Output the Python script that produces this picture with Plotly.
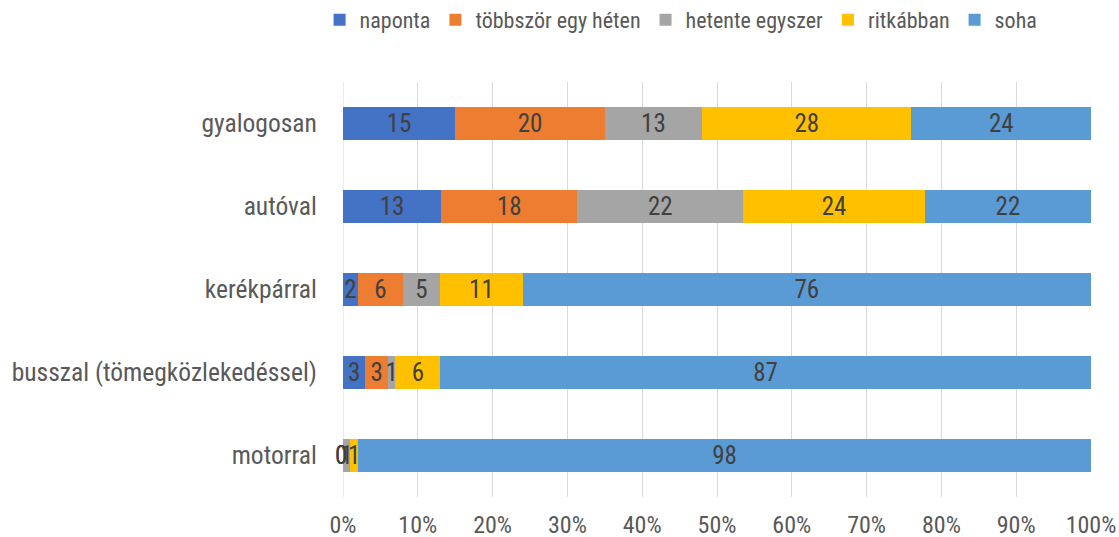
import plotly.graph_objects as go

categories = ["gyalogosan", "autóval", "kerékpárral", "busszal (tömegközlekedéssel)", "motorral"]
series_names = ["naponta", "többször egy héten", "hetente egyszer", "ritkábban", "soha"]
naponta = [15, 13, 2, 3, 0]
tobbszor = [20, 18, 6, 3, 0]
hetente = [13, 22, 5, 1, 1]
ritkabban = [28, 24, 11, 6, 1]
soha = [24, 22, 76, 87, 98]
colors = ["#4472C4", "#ED7D31", "#A5A5A5", "#FFC000", "#5B9BD5"]
tick_vals = [0, 10, 20, 30, 40, 50, 60, 70, 80, 90, 100]
tick_text = ["0%", "10%", "20%", "30%", "40%", "50%", "60%", "70%", "80%", "90%", "100%"]

FONT = "Roboto Condensed, Liberation Sans Narrow, sans-serif"
LABEL_SIZE = 25

series = [naponta, tobbszor, hetente, ritkabban, soha]
totals = [sum(s[i] for s in series) for i in range(len(categories))]

fig = go.Figure()
for name, vals, col in zip(series_names, series, colors):
    fig.add_trace(go.Bar(
        y=categories, x=vals, name=name, orientation="h",
        marker=dict(color=col, line=dict(width=0)),
        text=[str(v) if v > 0 else "" for v in vals], textposition="inside",
        insidetextanchor="middle", textangle=0,
        textfont=dict(family=FONT, size=LABEL_SIZE, color="#404040"),
        cliponaxis=False,
    ))

# labels for zero-width segments (plotly does not draw text for empty bars)
for i, cat in enumerate(categories):
    cum = 0
    for vals in series:
        if vals[i] == 0:
            fig.add_annotation(x=cum / totals[i] * 100, y=cat, xref="x", yref="y",
                               text=str(vals[i]), showarrow=False, xshift=-2,
                               font=dict(family=FONT, size=LABEL_SIZE, color="#404040"))
        cum += vals[i]

fig.update_layout(
    barmode="stack", barnorm="percent", bargap=0.6,
    width=1119, height=537,
    margin=dict(l=343, r=28, t=82, b=40, autoexpand=False),
    plot_bgcolor="white", paper_bgcolor="white",
    font=dict(family=FONT, color="#595959"),
    uniformtext=dict(minsize=LABEL_SIZE, mode="show"),
    legend=dict(orientation="h", x=0.452, xanchor="center", y=0.963, yref="container",
                yanchor="middle", font=dict(family=FONT, size=22, color="#595959"),
                traceorder="normal", itemwidth=30, tracegroupgap=0),
    xaxis=dict(range=[0, 100.0001], tickvals=tick_vals, ticktext=tick_text,
               showgrid=True, gridcolor="#D9D9D9", gridwidth=1, zeroline=False,
               tickfont=dict(family=FONT, size=24, color="#595959"),
               ticks="outside", ticklen=6, tickcolor="rgba(0,0,0,0)",
               showline=False, fixedrange=True, automargin=False),
    yaxis=dict(autorange="reversed", showgrid=False,
               tickfont=dict(family=FONT, size=25.5, color="#595959"),
               ticks="outside", ticklen=20, tickcolor="rgba(0,0,0,0)",
               showline=False, automargin=False, fixedrange=True),
)
fig.add_shape(type="line", xref="x", yref="paper", x0=0, x1=0, y0=0, y1=1,
              line=dict(color="#D9D9D9", width=1), layer="below")

fig.write_html("out.html", config={"displayModeBar": False},
               post_script="document.body.style.margin='0';document.body.style.overflow='hidden';")
